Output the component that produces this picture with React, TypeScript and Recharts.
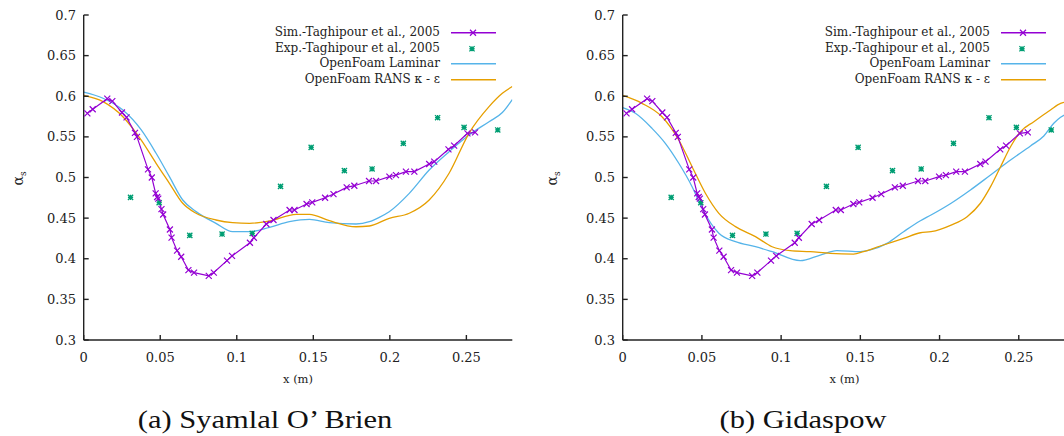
import { ComposedChart, Line, Scatter, XAxis, YAxis, Legend } from 'recharts'

// Sim.-Taghipour et al., 2005 (same curve in both panels)
const simX = [0.0024, 0.0059, 0.0154, 0.0187, 0.025, 0.028, 0.0335, 0.0348, 0.042, 0.0445, 0.047, 0.048, 0.0487, 0.0508, 0.0519, 0.0563, 0.0574, 0.061, 0.0637, 0.0684, 0.0721, 0.0817, 0.085, 0.0936, 0.0969, 0.1086, 0.1112, 0.1193, 0.124, 0.1345, 0.1377, 0.1456, 0.1493, 0.1577, 0.1632, 0.1718, 0.1768, 0.1864, 0.191, 0.1997, 0.204, 0.2105, 0.216, 0.2257, 0.229, 0.2383, 0.242, 0.2507, 0.2557]
const simY = [0.579, 0.584, 0.597, 0.594, 0.58, 0.574, 0.555, 0.55, 0.51, 0.5, 0.4805, 0.476, 0.474, 0.461, 0.4545, 0.436, 0.426, 0.41, 0.4025, 0.386, 0.383, 0.379, 0.383, 0.3977, 0.4035, 0.4197, 0.4259, 0.4428, 0.4477, 0.46, 0.46, 0.4674, 0.4694, 0.4751, 0.4796, 0.4878, 0.4899, 0.4957, 0.4957, 0.501, 0.503, 0.5072, 0.5072, 0.5166, 0.5195, 0.5347, 0.5392, 0.5544, 0.5556]

// Exp.-Taghipour et al., 2005
const expX = [0.0306, 0.0493, 0.0693, 0.0904, 0.1101, 0.1286, 0.1486, 0.1703, 0.1884, 0.2088, 0.2312, 0.2485, 0.2705]
const expY = [0.4756, 0.469, 0.4288, 0.4304, 0.4312, 0.4891, 0.5371, 0.5084, 0.5105, 0.542, 0.5736, 0.5617, 0.5585]

// (a) Syamlal O' Brien
const lamAX = [0, 0.0126, 0.0256, 0.0376, 0.0473, 0.056, 0.0647, 0.0734, 0.0864, 0.0973, 0.1084, 0.1214, 0.1344, 0.1475, 0.1605, 0.1779, 0.1866, 0.1931, 0.1996, 0.2127, 0.2257, 0.2387, 0.2517, 0.2648, 0.2735, 0.28]
const lamAY = [0.605, 0.5975, 0.583, 0.5585, 0.5298, 0.501, 0.4723, 0.458, 0.4436, 0.4333, 0.4333, 0.4387, 0.4456, 0.4485, 0.4444, 0.4428, 0.4456, 0.451, 0.4579, 0.4805, 0.5092, 0.5318, 0.5523, 0.5687, 0.58, 0.596]
const kepAX = [0, 0.0126, 0.0256, 0.0376, 0.0473, 0.056, 0.0647, 0.0734, 0.0864, 0.0973, 0.1084, 0.1214, 0.1388, 0.1475, 0.1605, 0.1779, 0.1866, 0.1996, 0.2127, 0.2257, 0.2387, 0.2517, 0.2648, 0.2735, 0.28]
const kepAY = [0.601, 0.5933, 0.5748, 0.546, 0.5175, 0.4929, 0.4683, 0.456, 0.4477, 0.4444, 0.4436, 0.4465, 0.4547, 0.4547, 0.4468, 0.4394, 0.4403, 0.4498, 0.456, 0.4723, 0.5052, 0.5544, 0.5872, 0.6036, 0.612]

// (b) Gidaspow
const lamBX = [0, 0.008, 0.0185, 0.0269, 0.0354, 0.0438, 0.0501, 0.0607, 0.0712, 0.0838, 0.0943, 0.1121, 0.1247, 0.1352, 0.15, 0.1563, 0.1668, 0.1773, 0.1879, 0.1946, 0.2073, 0.2195, 0.2322, 0.2448, 0.2574, 0.2658, 0.2721, 0.2764, 0.28]
const lamBY = [0.586, 0.579, 0.5605, 0.5421, 0.5175, 0.4887, 0.4621, 0.4313, 0.421, 0.4148, 0.4087, 0.3976, 0.4046, 0.41, 0.4087, 0.4108, 0.419, 0.4333, 0.4468, 0.4538, 0.4683, 0.4846, 0.5031, 0.5215, 0.5388, 0.5511, 0.5667, 0.5741, 0.578]
const kepBX = [0, 0.0122, 0.0248, 0.0354, 0.0438, 0.0522, 0.0607, 0.0712, 0.0838, 0.0943, 0.1057, 0.1184, 0.131, 0.1457, 0.152, 0.1626, 0.1773, 0.1879, 0.1946, 0.2073, 0.2174, 0.2258, 0.2322, 0.2385, 0.2448, 0.2511, 0.2595, 0.27, 0.2764, 0.28]
const kepBY = [0.601, 0.5913, 0.5748, 0.5462, 0.5133, 0.4806, 0.4559, 0.4395, 0.4272, 0.4148, 0.41, 0.4087, 0.4066, 0.4058, 0.4087, 0.4157, 0.4251, 0.432, 0.4333, 0.4415, 0.4518, 0.4683, 0.4887, 0.5133, 0.5379, 0.5564, 0.5687, 0.5831, 0.5913, 0.593]

const xTicks = [0, 0.05, 0.1, 0.15, 0.2, 0.25]
const yTicks = [0.3, 0.35, 0.4, 0.45, 0.5, 0.55, 0.6, 0.65, 0.7]
const seriesNames = ['Sim.-Taghipour et al., 2005', 'Exp.-Taghipour et al., 2005', 'OpenFoam Laminar', 'OpenFoam RANS \u03ba - \u03b5']

const SIM = '#9400d3'
const EXP = '#009e73'
const LAM = '#56b4e9'
const KEP = '#e69f00'
const FONT = '"DejaVu Serif", serif'
const CAPTION_FONT = '"Liberation Serif", serif'

const pts = (xs: number[], ys: number[]) => xs.map((x, i) => ({ x, y: ys[i] }))

const XDot = (props: any) => {
  const { cx, cy, index } = props
  if (cx == null || cy == null) return <g key={index} />
  const s = 3
  return (
    <path key={index} d={`M${cx - s},${cy - s}L${cx + s},${cy + s}M${cx - s},${cy + s}L${cx + s},${cy - s}`}
      stroke={SIM} strokeWidth={1.2} fill="none" />
  )
}

const Star = (props: any) => {
  const { cx, cy } = props
  if (cx == null || cy == null) return <g />
  const s = 2.6
  return (
    <path d={`M${cx - s},${cy}L${cx + s},${cy}M${cx},${cy - s}L${cx},${cy + s}M${cx - s},${cy - s}L${cx + s},${cy + s}M${cx - s},${cy + s}L${cx + s},${cy - s}`}
      stroke={EXP} strokeWidth={1.3} fill="none" />
  )
}

function LegendBox() {
  const sample = (i: number) => (
    <svg width={46} height={15.5} style={{ display: 'block' }}>
      {i !== 1 && <line x1={0} x2={45} y1={7.75} y2={7.75} stroke={[SIM, EXP, LAM, KEP][i]} strokeWidth={1.3} />}
      {i === 0 && <XDot cx={22} cy={7.75} index={0} />}
      {i === 1 && <Star cx={21} cy={7.75} />}
    </svg>
  )
  return (
    <div style={{ fontFamily: FONT, fontSize: 12, color: '#222' }}>
      {seriesNames.map((n, i) => (
        <div key={n} style={{ display: 'flex', alignItems: 'center', height: 15.5 }}>
          <div style={{ width: 190, textAlign: 'right', lineHeight: '15.5px', whiteSpace: 'nowrap' }}>{n}</div>
          <div style={{ width: 11 }} />
          {sample(i)}
        </div>
      ))}
    </div>
  )
}

type PanelProps = { left: number; width: number; lam: { x: number; y: number }[]; kep: { x: number; y: number }[]; legendLeft: number }

function Panel({ left, width, lam, kep, legendLeft }: PanelProps) {
  const tickStyle = { fontFamily: FONT, fontSize: 13, fill: '#222' }
  const axisLine = { stroke: '#222', strokeWidth: 1.4 }
  return (
    <div style={{ position: 'absolute', left, top: 0 }}>
      <ComposedChart width={width} height={400} margin={{ top: 15, right: 17.7, bottom: 14, left: 23.7 }}>
        <XAxis dataKey="x" type="number" domain={[0, 0.28]} ticks={xTicks} allowDataOverflow interval={0}
          tickSize={-5} tickMargin={17.5} tick={tickStyle} axisLine={axisLine} tickLine={axisLine} height={46}
          label={{ value: 'x (m)', position: 'insideBottom', offset: 3, style: { fontFamily: FONT, fontSize: 11.5, fill: '#222' } }} />
        <XAxis xAxisId="top" orientation="top" type="number" domain={[0, 0.28]} ticks={xTicks} allowDataOverflow
          interval={0} tickSize={-5} tick={false} axisLine={axisLine} tickLine={axisLine} height={0} />
        <YAxis dataKey="y" type="number" domain={[0.3, 0.7]} ticks={yTicks} allowDataOverflow interval={0}
          tickSize={-5} tickMargin={12.7} tick={tickStyle} axisLine={axisLine} tickLine={axisLine} width={60} />
        <YAxis yAxisId="right" orientation="right" type="number" domain={[0.3, 0.7]} ticks={yTicks} allowDataOverflow
          interval={0} tickSize={-5} tick={false} axisLine={axisLine} tickLine={axisLine} width={0} />
        <Line data={lam} dataKey="y" type="monotone" stroke={LAM} strokeWidth={1.3} dot={false} isAnimationActive={false} />
        <Line data={kep} dataKey="y" type="monotone" stroke={KEP} strokeWidth={1.3} dot={false} isAnimationActive={false} />
        <Line data={pts(simX, simY)} dataKey="y" type="linear" stroke={SIM} strokeWidth={1.2} dot={XDot} isAnimationActive={false} />
        <Scatter data={pts(expX, expY)} dataKey="y" shape={Star} isAnimationActive={false} />
        <Legend layout="horizontal" verticalAlign="middle" align="center" content={() => <LegendBox />}
          wrapperStyle={{ top: 25, left: legendLeft, width: 250, height: 62 }} />
      </ComposedChart>
    </div>
  )
}

function AlphaLabel({ left }: { left: number }) {
  return (
    <div style={{ position: 'absolute', left, top: 167, width: 22, height: 22, display: 'flex', alignItems: 'center', justifyContent: 'center' }}>
      <div style={{ transform: 'rotate(-90deg)', fontFamily: FONT, fontSize: 14, color: '#222', whiteSpace: 'nowrap' }}>
        {'\u03b1'}<sub style={{ fontSize: 9 }}>s</sub>
      </div>
    </div>
  )
}

export default function App() {
  const caption = { position: 'absolute' as const, top: 407, fontFamily: CAPTION_FONT, fontSize: 25, lineHeight: '25px', color: '#111', textAlign: 'center' as const, width: 400, transform: 'scaleX(1.22)' }
  return (
    <div style={{ position: 'relative', width: 1064, height: 436, overflow: 'hidden', background: '#fff' }}>
      <style>{'body{margin:0}'}</style>
      <Panel left={0} width={530} lam={pts(lamAX, lamAY)} kep={pts(kepAX, kepAY)} legendLeft={250} />
      <Panel left={539} width={545} lam={pts(lamBX, lamBY)} kep={pts(kepBX, kepBY)} legendLeft={261} />
      <AlphaLabel left={8} />
      <AlphaLabel left={542} />
      <div style={{ ...caption, left: 65 }}>(a) Syamlal O&#8217; Brien</div>
      <div style={{ ...caption, left: 603 }}>(b) Gidaspow</div>
    </div>
  )
}
